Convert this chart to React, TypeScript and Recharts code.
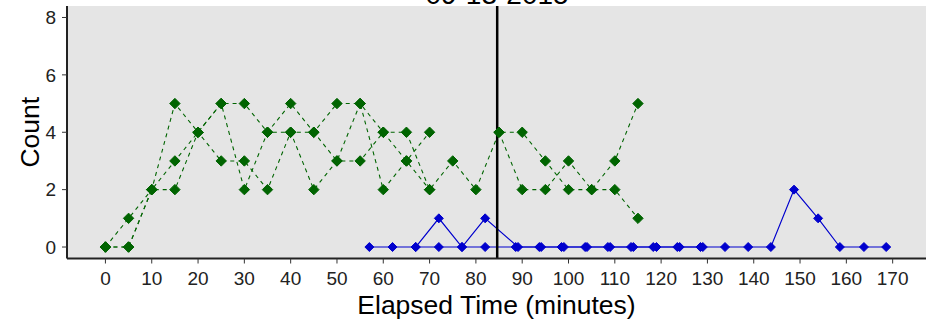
import React from 'react';
import { LineChart, Line, XAxis, YAxis, CartesianGrid, ReferenceLine, Label } from 'recharts';

// green sessions sampled every 5 minutes
const greenTimes = [0, 5, 10, 15, 20, 25, 30, 35, 40, 45, 50, 55, 60, 65, 70, 75, 80, 85, 90, 95, 100, 105, 110, 115];
const greenA = [0, 1, 2, 5, 4, 5, 5, 4, 5, 4, 5, 5, 2, 3, 4];
const greenB = [0, 0, 2, 3, 4, 5, 2, 4, 4, 4, 3, 5, 4, 4, 2, 3, 2, 4, 4, 3, 2, 2, 2, 1];
const greenC = [0, 0, 2, 2, 4, 3, 3, 2, 4, 2, 3, 3, 4, 3, 2, null, null, 4, 2, 2, 3, 2, 3, 5];

// blue sessions
const blueTimesA = [57, 62, 67, 72, 77, 82, 88.6, 93.7, 98.5, 103.6, 108.5, 113.5, 118.3, 123.5, 128.5];
const blueA = [0, 0, 0, 0, 0, 0, 0, 0, 0, 0, 0, 0, 0, 0, 0];
const blueTimesB = [67, 72, 77, 82, 89.1, 94.1, 99, 104, 109, 114, 119, 124, 129, 133.8, 138.8, 143.7, 148.7, 153.9, 158.6, 163.8, 168.6];
const blueB = [0, 1, 0, 1, 0, 0, 0, 0, 0, 0, 0, 0, 0, 0, 0, 0, 2, 1, 0, 0, 0];

const xTicks = [0, 10, 20, 30, 40, 50, 60, 70, 80, 90, 100, 110, 120, 130, 140, 150, 160, 170];
const yTicks = [0, 2, 4, 6, 8];
const markerTime = 84.6;
const title = '09-13-2015';

const GREEN = '#006400';
const BLUE = '#0000CD';
const FONT = '"Liberation Sans", Arial, sans-serif';

const toPoints = (ts: number[], vs: (number | null)[]) => vs.map((v, i) => ({ t: ts[i], v }));

const diamond = (color: string, r: number) => (props: any) => {
  const { cx, cy, index, value } = props;
  if (cx == null || cy == null || value == null) return <g key={index} />;
  return (
    <path
      key={index}
      d={`M${cx},${cy - r}L${cx + r},${cy}L${cx},${cy + r}L${cx - r},${cy}Z`}
      fill={color}
      stroke={color}
      strokeWidth={1}
      strokeLinejoin="round"
    />
  );
};

export default function App() {
  const tickStyle = { fontSize: 19, fill: '#222', fontFamily: FONT };
  const titleStyle = { fontSize: 26.5, fill: '#000', fontFamily: FONT };
  return (
    <div style={{ position: 'absolute', left: 0, top: 0, width: 926, height: 323, background: '#fff', overflow: 'hidden' }}>
      <svg width={926} height={20} style={{ position: 'absolute', left: 0, top: 0 }}>
        <text x={497} y={4} textAnchor="middle" fontSize={28} fontFamily={FONT} fill="#000">{title}</text>
      </svg>
      <div style={{ position: 'absolute', left: 0, top: 0 }}>
        <LineChart width={926} height={323} margin={{ top: 6, right: 0, bottom: 0, left: 0 }}>
          <CartesianGrid fill="#E5E5E5" horizontal={false} vertical={false} stroke="none" />
          <XAxis
            type="number"
            dataKey="t"
            domain={[-8.3, 177.2]}
            ticks={xTicks}
            allowDataOverflow
            height={64.5}
            tick={tickStyle}
            tickSize={5}
            tickMargin={8}
            tickLine={{ stroke: '#333' }}
            axisLine={{ stroke: '#222', strokeWidth: 2 }}
          >
            <Label value="Elapsed Time (minutes)" position="insideBottom" offset={9} style={titleStyle} />
          </XAxis>
          <YAxis
            type="number"
            domain={[-0.4, 8.4]}
            ticks={yTicks}
            allowDataOverflow
            width={67}
            tick={tickStyle}
            tickSize={5}
            tickMargin={6}
            tickLine={{ stroke: '#333' }}
            axisLine={{ stroke: '#222', strokeWidth: 2 }}
          >
            <Label value="Count" angle={-90} position="insideLeft" offset={30} style={{ ...titleStyle, textAnchor: 'middle' }} />
          </YAxis>
          <Line data={toPoints(blueTimesA, blueA)} dataKey="v" stroke={BLUE} strokeWidth={1.2} dot={diamond(BLUE, 4.5)} activeDot={false} isAnimationActive={false} />
          <Line data={toPoints(blueTimesB, blueB)} dataKey="v" stroke={BLUE} strokeWidth={1.2} dot={diamond(BLUE, 4.5)} activeDot={false} isAnimationActive={false} />
          <ReferenceLine x={markerTime} stroke="#000" strokeWidth={2.5} />
          <Line data={toPoints(greenTimes, greenA)} dataKey="v" stroke={GREEN} strokeWidth={1.1} strokeDasharray="4 4" dot={diamond(GREEN, 5.2)} activeDot={false} isAnimationActive={false} />
          <Line data={toPoints(greenTimes, greenB)} dataKey="v" stroke={GREEN} strokeWidth={1.1} strokeDasharray="4 4" dot={diamond(GREEN, 5.2)} activeDot={false} isAnimationActive={false} />
          <Line data={toPoints(greenTimes, greenC)} dataKey="v" stroke={GREEN} strokeWidth={1.1} strokeDasharray="4 4" dot={diamond(GREEN, 5.2)} activeDot={false} isAnimationActive={false} />
        </LineChart>
      </div>
    </div>
  );
}
